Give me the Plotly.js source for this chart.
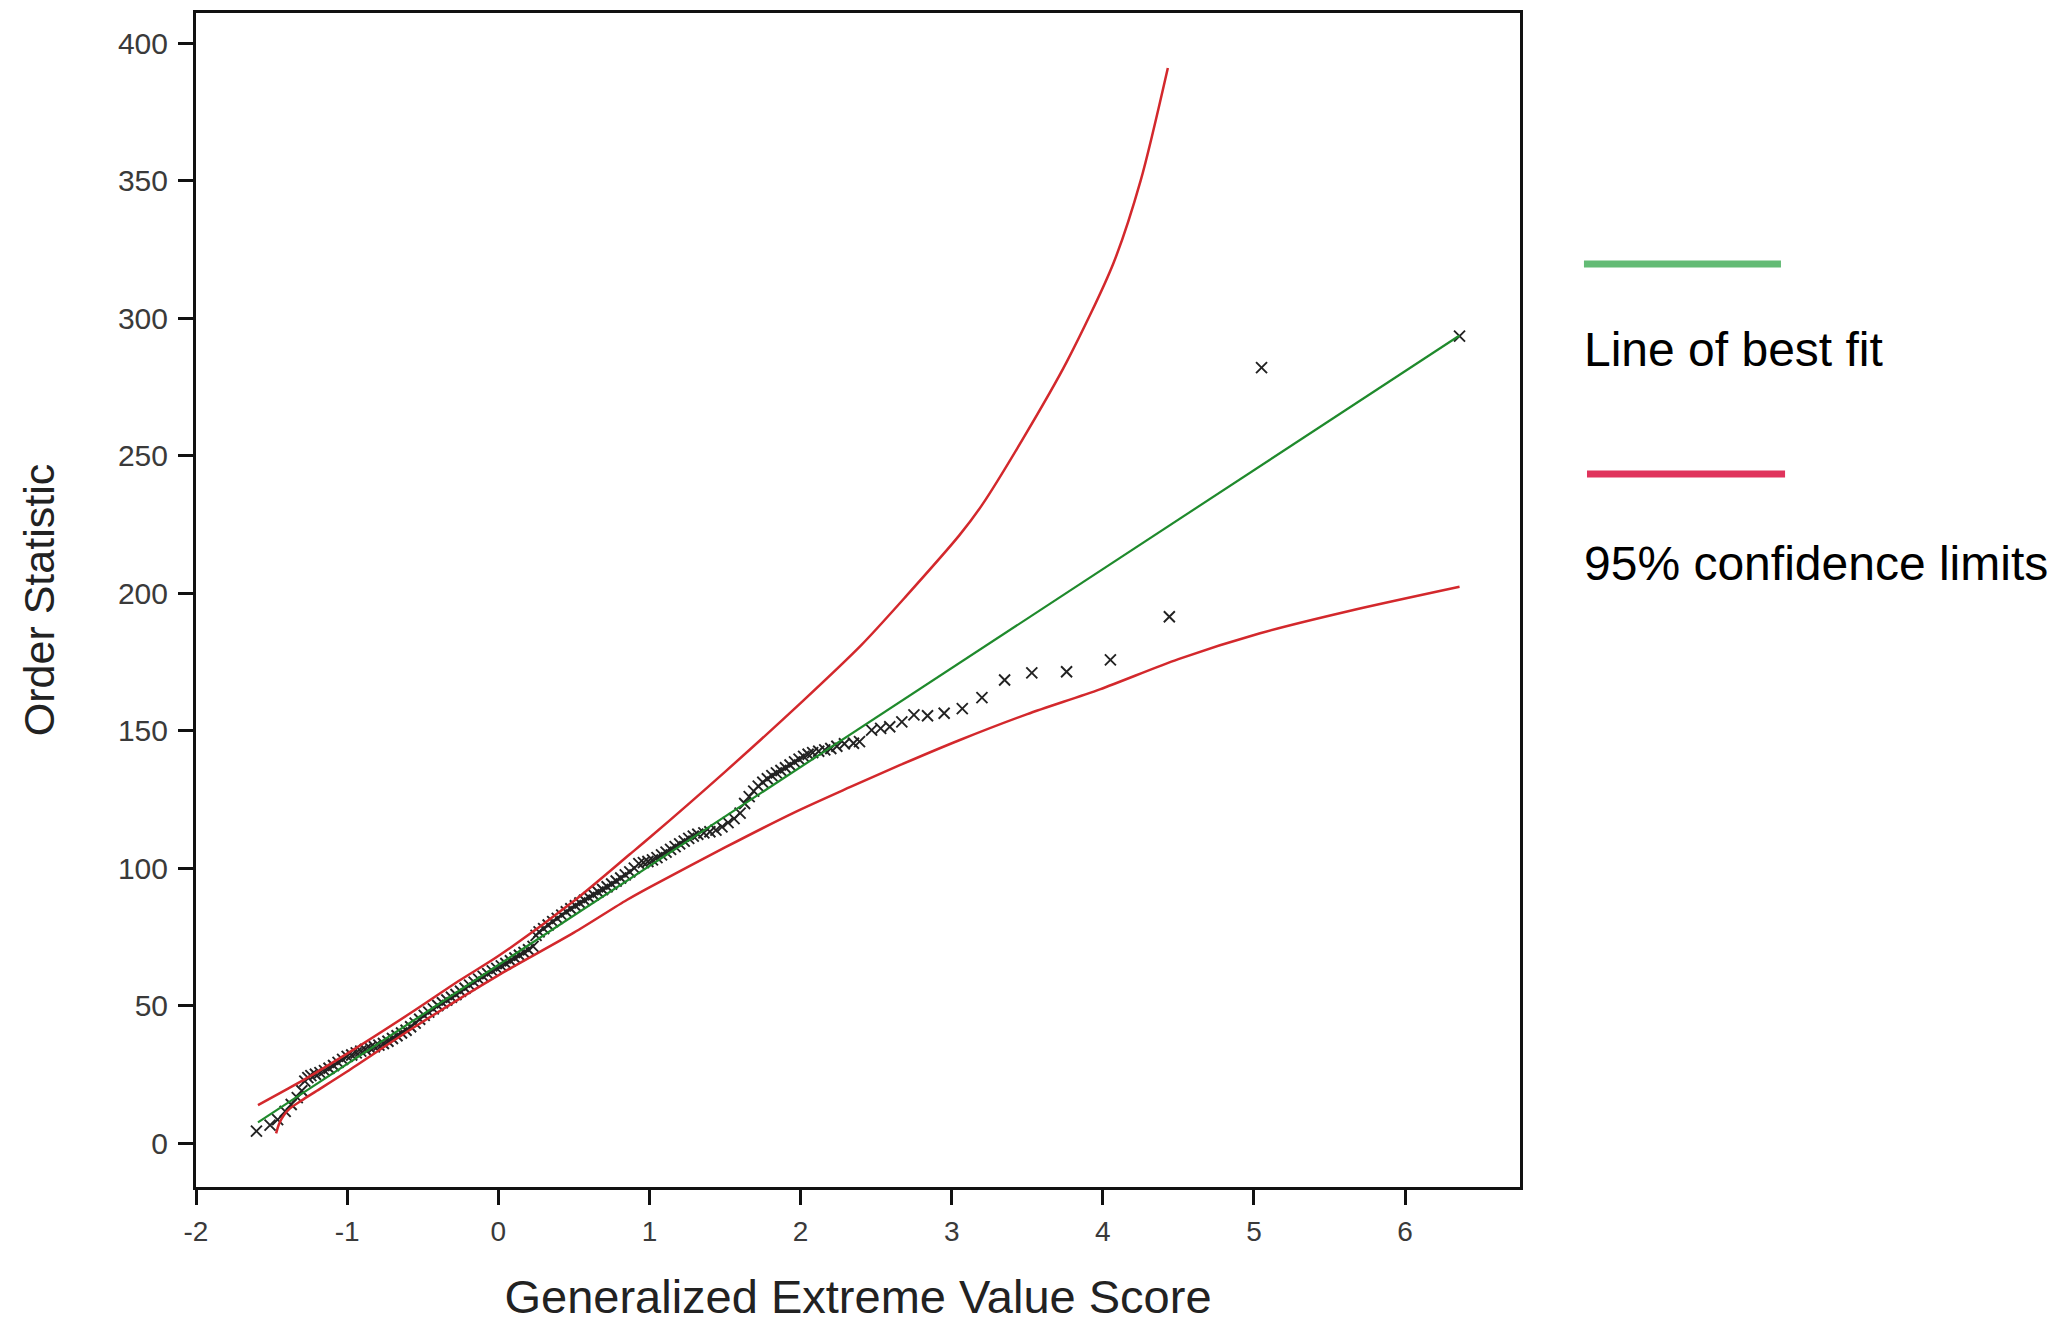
<!DOCTYPE html>
<html>
<head>
<meta charset="utf-8">
<script src="https://cdn.plot.ly/plotly-3.0.1.min.js"></script>
<style>
html,body{margin:0;padding:0;background:#fff;}
#chart{width:2053px;height:1323px;}
</style>
</head>
<body>
<div id="chart"></div>
<script>
const scoreX = [
-1.60,-1.51,-1.46,-1.41,-1.37,-1.33,-1.30,-1.28,-1.26,-1.24,-1.21,-1.18,-1.15,-1.12,-1.09,-1.06,-1.03,-1.00,
-0.97,-0.94,-0.91,-0.88,-0.85,-0.82,-0.79,-0.76,-0.73,-0.70,-0.67,-0.64,-0.61,-0.58,-0.55,-0.52,-0.49,-0.46,
-0.43,-0.40,-0.37,-0.34,-0.31,-0.28,-0.25,-0.22,-0.19,-0.16,-0.13,-0.10,-0.07,-0.04,-0.01,0.02,0.05,0.08,
0.11,0.14,0.17,0.20,0.23,0.25,0.27,0.30,0.33,0.36,0.39,0.42,0.45,0.48,0.51,0.54,0.57,0.60,0.63,0.66,0.69,
0.72,0.75,0.78,0.81,0.84,0.87,0.90,0.93,0.96,0.99,1.02,1.05,1.08,1.11,1.14,1.17,1.20,1.23,1.26,1.29,1.32,
1.36,1.40,1.44,1.48,1.52,1.56,1.60,1.63,1.66,1.69,1.72,1.75,1.78,1.81,1.84,1.87,1.90,1.93,1.96,1.99,2.02,
2.05,2.08,2.12,2.16,2.20,2.24,2.29,2.35,2.39,2.47,2.53,2.59,2.67,2.75,2.84,2.95,3.07,3.20,3.35,3.53,3.76,
4.05,4.44,5.05,6.36
];
const orderY = [
4.3,6.5,8.5,11.5,14.0,16.5,19.0,22.5,23.8,24.5,25.0,25.6,26.3,27.2,28.2,29.3,30.4,31.5,
32.0,32.8,33.4,34.0,34.6,35.0,35.6,36.2,37.0,38.0,39.0,40.0,41.0,42.3,43.6,45.0,46.4,47.6,
48.8,50.0,51.0,52.0,53.0,54.0,55.2,56.3,57.4,58.5,59.6,60.6,61.6,62.6,63.5,64.4,65.3,66.3,
67.3,68.3,69.3,70.3,71.5,75.5,76.8,78.0,79.3,80.5,81.7,82.9,84.1,85.2,86.3,87.3,88.3,89.3,90.3,91.3,92.2,
93.2,94.2,95.3,96.4,97.5,98.6,100.0,101.6,102.0,102.4,103.0,103.8,104.8,105.8,106.8,107.8,108.8,109.8,110.8,111.6,112.3,
112.8,113.2,113.8,115.0,116.5,118.0,120.0,123.5,126.0,128.0,129.8,131.2,132.5,133.6,134.6,135.5,136.5,137.5,138.6,139.6,140.6,
141.4,142.0,142.5,143.0,143.5,144.3,145.2,145.4,146.0,150.2,150.8,151.4,153.2,155.7,155.4,156.3,158.0,162.0,168.4,171.0,171.4,
175.7,191.4,282.0,293.5
];

// Line of best fit (end points)
const fitX = [-1.59, 6.36];
const fitY = [7.5, 293.7];

// 95% confidence limits
const upperX = [-1.59,-1.40,-1.27,-1.00,-0.56,-0.26,0.00,0.50,0.87,1.00,1.50,2.00,2.40,2.70,3.05,3.20,3.47,3.76,4.07,4.25,4.43];
const upperY = [13.8,19.5,23.5,32.5,48.0,59.0,68.0,88.0,105.0,111.0,135.0,160.0,181.0,199.0,221.0,232.0,256.0,284.0,320.0,350.0,391.0];
const lowerX = [-1.47,-1.45,-1.42,-1.38,-1.30,-1.20,-1.00,-0.56,0.00,0.50,0.85,1.00,1.50,1.95,2.33,2.66,3.05,3.50,3.98,4.50,5.04,5.63,6.36];
const lowerY = [3.5,7.0,10.0,12.5,15.5,19.0,26.0,42.0,61.0,76.5,88.4,93.0,107.5,120.0,129.5,137.5,146.5,156.0,165.0,176.0,185.4,193.5,202.3];

// Axis ticks and labels
const xTicks = [-2,-1,0,1,2,3,4,5,6];
const yTicks = [0,50,100,150,200,250,300,350,400];
const xTitle = "Generalized Extreme Value Score";
const yTitle = "Order Statistic";
const legendFit = "Line of best fit";
const legendCI = "95% confidence limits";

const FONT = "Liberation Sans, Arial, Helvetica, sans-serif";
const RED = "#d3282c";
const GREEN = "#1f8a2c";

const traces = [
  {x: scoreX, y: orderY, type: "scatter", mode: "markers",
   marker: {symbol: "x-thin", size: 11, color: "#222", line: {width: 1.9, color: "#222"}},
   hoverinfo: "x+y"},
  {x: upperX, y: upperY, type: "scatter", mode: "lines", line: {color: RED, width: 2.5, shape: "spline", smoothing: 0.8}},
  {x: lowerX, y: lowerY, type: "scatter", mode: "lines", line: {color: RED, width: 2.5, shape: "spline", smoothing: 0.8}},
  {x: fitX, y: fitY, type: "scatter", mode: "lines", line: {color: GREEN, width: 2.2}}
];

const layout = {
  width: 2053, height: 1323,
  margin: {l: 196, r: 533, t: 13, b: 136, pad: 0},
  paper_bgcolor: "#fff", plot_bgcolor: "#fff",
  showlegend: false,
  font: {family: FONT, color: "#222"},
  xaxis: {
    range: [-2, 6.76], tickvals: xTicks, ticktext: xTicks.map(String),
    showgrid: false, zeroline: false,
    showline: true, mirror: true, linecolor: "#111", linewidth: 3,
    ticks: "outside", ticklen: 15, tickwidth: 3, tickcolor: "#111",
    ticklabelstandoff: 2,
    tickfont: {family: FONT, size: 28, color: "#3a3a3a"},
    title: {text: xTitle, font: {family: FONT, size: 47, color: "#222"}, standoff: 38}
  },
  yaxis: {
    range: [-16, 411], tickvals: yTicks, ticktext: yTicks.map(String),
    showgrid: false, zeroline: false,
    showline: true, mirror: true, linecolor: "#111", linewidth: 3,
    ticks: "outside", ticklen: 15, tickwidth: 3, tickcolor: "#111",
    ticklabelstandoff: 4,
    tickfont: {family: FONT, size: 30, color: "#3a3a3a"},
    title: {text: yTitle, font: {family: FONT, size: 43, color: "#222"}, standoff: 50}
  },
  shapes: [
    {type: "line", xref: "paper", yref: "paper", x0: 1.0483, x1: 1.1971, y0: 0.7862, y1: 0.7862,
     line: {color: "#63bb75", width: 7}},
    {type: "line", xref: "paper", yref: "paper", x0: 1.0506, x1: 1.2002, y0: 0.6073, y1: 0.6073,
     line: {color: "#e0345c", width: 7}}
  ],
  annotations: [
    {xref: "paper", yref: "paper", x: 1.0465, y: 0.713, xanchor: "left", yanchor: "middle",
     text: legendFit, showarrow: false, font: {family: FONT, size: 48, color: "#000"}},
    {xref: "paper", yref: "paper", x: 1.0465, y: 0.5315, xanchor: "left", yanchor: "middle",
     text: legendCI, showarrow: false, font: {family: FONT, size: 48, color: "#000"}}
  ]
};

Plotly.newPlot("chart", traces, layout, {displayModeBar: false, staticPlot: true});
</script>
</body>
</html>
